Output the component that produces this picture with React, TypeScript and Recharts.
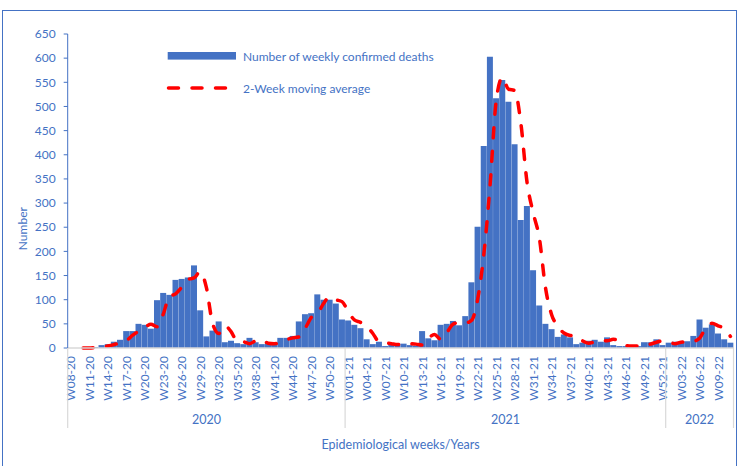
import { Bar, ComposedChart, Legend, Line, XAxis, YAxis } from 'recharts'

const BLUE = '#4472C4'
const RED = '#FF0000'
const AXIS_GREY = '#D9D9D9'
const FONT = 'Lato, "Open Sans", sans-serif'

const W = 738
const H = 466
const PLOT_LEFT = 67.7
const PLOT_RIGHT = 733.5
const PLOT_BOTTOM = 348

// epi weeks: W08-20 .. W52-20, W01-21 .. W52-21, W01-22 .. W11-22
const weekRanges: [string, number, number][] = [['20', 8, 52], ['21', 1, 52], ['22', 1, 11]]
const weeks: string[] = weekRanges.flatMap(([yy, a, b]) =>
  Array.from({ length: b - a + 1 }, (_, k) => `W${String(a + k).padStart(2, '0')}-${yy}`))

const deaths = [
  0, 0, 0, 1, 2, 6, 8, 13, 17, 35, 35, 50, 48, 40, 99, 114, 110, 141, 143, 146,
  171, 78, 24, 36, 55, 12, 15, 10, 8, 21, 12, 8, 10, 12, 21, 21, 25, 55, 70, 72,
  111, 100, 100, 92, 59,
  57, 48, 41, 18, 8, 13, 4, 10, 9, 9, 6, 5, 35, 20, 16, 48, 50, 56, 47, 66,
  136, 251, 418, 603, 517, 555, 510, 422, 265, 294, 161, 88, 50, 39, 23, 28, 22, 8, 11, 15,
  17, 13, 22, 6, 4, 4, 4, 4, 12, 12, 18, 6,
  11, 13, 13, 14, 25, 59, 42, 49, 30, 18, 11,
]

const movingAvg: (number | null)[] = [
  null, null, 0, 0, 1, 2, 4, 7, 11, 15, 26, 35, 43, 49, 44, 70, 107, 112, 126, 142,
  145, 158, 125, 51, 30, 46, 34, 14, 13, 9, 15, 17, 10, 9, 11, 17, 21, 23, 40, 63,
  71, 92, 106, 100, 96,
  76, 58, 53, 45, 30, 13, 11, 9, 7, 10, 9, 8, 6, 20, 28, 18, 32, 49, 53, 52,
  57, 101, 194, 335, 511, 560, 536, 533, 466, 344, 280, 228, 125, 69, 45, 31, 26, 25, 15, 10,
  13, 16, 15, 18, 14, 5, 4, 4, 4, 8, 12, 15,
  12, 9, 12, 13, 14, 20, 42, 51, 46, 40, 24,
]

const yTicks = [0, 50, 100, 150, 200, 250, 300, 350, 400, 450, 500, 550, 600, 650]

const data = weeks.map((week, i) => ({
  week,
  year: '20' + week.slice(-2),
  deaths: deaths[i],
  avg: movingAvg[i],
}))

const BAND = (PLOT_RIGHT - PLOT_LEFT) / weeks.length

function WeekTick(props: any) {
  const { x, y, payload } = props
  const i: number = payload.index
  const axisY = y - 8
  const row = data[i]
  const first = i === 0 || data[i - 1].year !== row.year
  const last = i === data.length - 1
  // middle of this year's run of weeks
  let lo = i
  while (lo > 0 && data[lo - 1].year === row.year) lo--
  let hi = i
  while (hi < data.length - 1 && data[hi + 1].year === row.year) hi++
  const mid = (lo + hi) / 2
  const isMid = Math.floor(mid) === i
  return (
    <g>
      {i % 3 === 0 && (
        <text x={x} y={y} transform={`rotate(-90 ${x} ${y})`} textAnchor="end"
          dominantBaseline="central" fontSize={12} fill={BLUE} fontFamily={FONT}>
          {payload.value}
        </text>
      )}
      {first && (
        <line x1={x - BAND / 2} x2={x - BAND / 2} y1={axisY} y2={axisY + 80}
          stroke={AXIS_GREY} strokeWidth={1.2} />
      )}
      {last && (
        <line x1={x + BAND / 2} x2={x + BAND / 2} y1={axisY} y2={axisY + 80}
          stroke={AXIS_GREY} strokeWidth={1.2} />
      )}
      {isMid && (
        <text x={x + (mid - i) * BAND} y={axisY + 71} textAnchor="middle"
          dominantBaseline="central" fontSize={12.5} fill={BLUE} fontFamily={FONT}>
          {row.year}
        </text>
      )}
    </g>
  )
}

function NumberLabel({ viewBox }: any) {
  const vb = viewBox ?? { x: 7.7, y: 34, width: 60, height: 314 }
  const cx = vb.x + 14.5
  const cy = vb.y + vb.height * 0.62
  return (
    <text x={cx} y={cy} transform={`rotate(-90 ${cx} ${cy})`} textAnchor="middle"
      dominantBaseline="central" fontSize={12} fill={BLUE} fontFamily={FONT}>
      Number
    </text>
  )
}

function LegendBox({ payload }: any) {
  // bars first, then the moving-average line
  const items = [...(payload ?? [])].sort((a: any, b: any) =>
    (a.type === 'rect' ? 0 : 1) - (b.type === 'rect' ? 0 : 1))
  return (
    <svg width={300} height={56}>
      {items.map((p: any, k: number) => {
        const cy = k === 0 ? 12 : 44
        return (
          <g key={p.value}>
            {p.type === 'rect' ? (
              <rect x={7.7} y={cy - 4} width={68.3} height={7.6} fill={BLUE} />
            ) : (
              <line x1={8.5} x2={66} y1={cy} y2={cy} stroke={RED} strokeWidth={3.5}
                strokeDasharray="10 13.5" strokeLinecap="round" />
            )}
            <text x={83} y={cy} dominantBaseline="central" fontSize={12} fill={BLUE}
              fontFamily={FONT}>
              {p.value}
            </text>
          </g>
        )
      })}
    </svg>
  )
}

export default function App() {
  return (
    <div style={{ position: 'absolute', left: 0, top: 0, width: W, height: H, background: '#fff', overflow: 'hidden' }}>
      <div style={{
        position: 'absolute', left: 1.5, top: 9.5, width: 733, height: 470,
        border: `1.5px solid ${BLUE}`, pointerEvents: 'none',
      }} />
      <ComposedChart width={W} height={H} data={data} barCategoryGap={0} barGap={0}
        margin={{ top: 34, right: W - PLOT_RIGHT, left: PLOT_LEFT - 60, bottom: 0 }}>
        <XAxis dataKey="week" height={H - PLOT_BOTTOM} interval={0} tickSize={0} tickMargin={8}
          tick={<WeekTick />} axisLine={{ stroke: AXIS_GREY, strokeWidth: 1.5 }} tickLine={false}
          label={{ value: 'Epidemiological weeks/Years', position: 'insideBottom', offset: 17,
            fontSize: 12.5, fill: BLUE, fontFamily: FONT }} />
        <YAxis width={60} domain={[0, 650]} ticks={yTicks} interval={0} tickSize={4} tickMargin={8}
          axisLine={{ stroke: BLUE }} tickLine={{ stroke: BLUE }}
          tick={{ fontSize: 12, fill: BLUE, fontFamily: FONT }} label={<NumberLabel />} />
        <Legend layout="horizontal" verticalAlign="middle" align="center" content={<LegendBox />}
          wrapperStyle={{ position: 'absolute', left: 160, top: 44, width: 300, height: 56 }} />
        <Bar dataKey="deaths" name="Number of weekly confirmed deaths" fill={BLUE} legendType="rect"
          isAnimationActive={false} />
        <Line dataKey="avg" name="2-Week moving average" type="monotone" stroke={RED}
          strokeWidth={3.5} strokeDasharray="10 13.5" strokeLinecap="round" dot={false}
          activeDot={false} legendType="line" isAnimationActive={false} />
      </ComposedChart>
    </div>
  )
}
